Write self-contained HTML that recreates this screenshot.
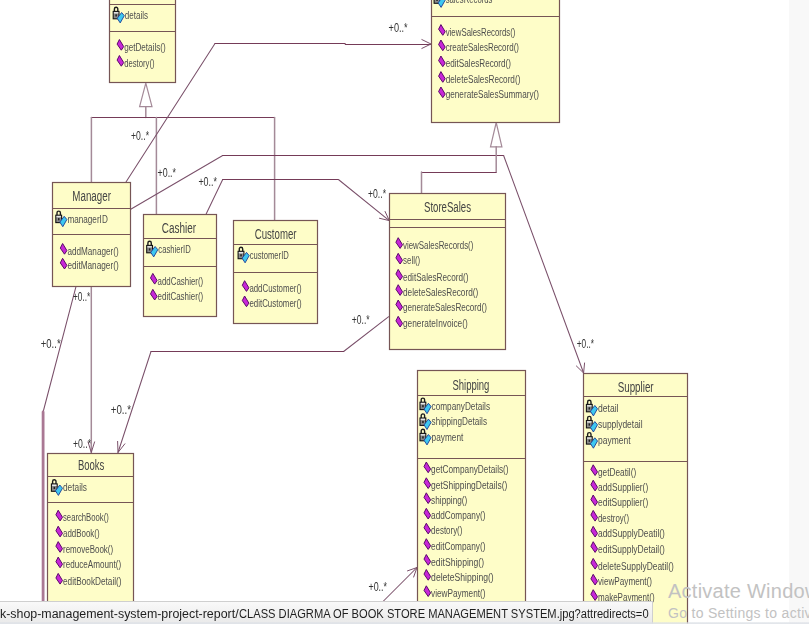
<!DOCTYPE html>
<html><head><meta charset="utf-8"><style>
html,body{margin:0;padding:0;width:809px;height:624px;overflow:hidden;background:#fff;}
body{position:relative;font-family:"Liberation Sans",sans-serif;}
svg{position:absolute;left:0;top:0;}
#strip{position:absolute;left:789px;top:0;width:20px;height:624px;background:#f8f8f8;}
#status{position:absolute;left:0;top:601px;width:653px;height:23px;background:linear-gradient(#f9f9f9,#e9e9e9);border-top:1px solid #cfcfcf;border-right:1px solid #cfcfcf;box-sizing:border-box;}
#status span{position:absolute;left:0;top:5px;font-size:12px;line-height:14px;color:#1e1e1e;white-space:nowrap;transform-origin:0 0;transform:scaleX(1.034);}
#status #st2{left:238.6px;transform:scaleX(0.928);}
#bot{position:absolute;left:0;top:622px;width:809px;height:2px;background:linear-gradient(rgba(220,224,230,0.5),#dfe3e8);}
#act1{position:absolute;left:668px;top:579.8px;font-size:20px;line-height:23px;letter-spacing:0.25px;color:#c2c2c2;white-space:nowrap;}
#act2{position:absolute;left:668px;top:605.2px;font-size:14px;line-height:16px;letter-spacing:0.3px;color:#c2c2c2;white-space:nowrap;}
</style></head><body>
<div id="strip"></div>
<svg width="809" height="624" viewBox="0 0 809 624" font-family="Liberation Sans, sans-serif">
<defs><filter id="bl" x="-2%" y="-2%" width="104%" height="104%"><feGaussianBlur stdDeviation="0.5 0.12"/></filter></defs>
<g filter="url(#bl)">
<polygon points="145.8,83.2 139.6,106.7 152,106.7" fill="#fff" stroke="#a48a98" stroke-width="1.2"/>
<line x1="145.8" y1="106.7" x2="145.8" y2="117.6" stroke="#a48a98" stroke-width="1.5" stroke-linecap="round"/>
<line x1="91.4" y1="117.5" x2="274.2" y2="117.5" stroke="#743a58" stroke-width="1.05" stroke-linecap="round"/>
<line x1="91.4" y1="117.6" x2="91.4" y2="182.8" stroke="#a48a98" stroke-width="1.5" stroke-linecap="round"/>
<line x1="156.4" y1="117.6" x2="156.4" y2="214.4" stroke="#a48a98" stroke-width="1.5" stroke-linecap="round"/>
<line x1="274.6" y1="117.6" x2="274.6" y2="220.5" stroke="#a48a98" stroke-width="1.5" stroke-linecap="round"/>
<line x1="125.5" y1="182.8" x2="215.0" y2="43.5" stroke="#7a506a" stroke-width="1.05" stroke-linecap="round"/>
<line x1="215.0" y1="43.5" x2="345.2" y2="43.5" stroke="#743a58" stroke-width="1.05" stroke-linecap="round"/>
<line x1="345.2" y1="44.5" x2="431.0" y2="44.5" stroke="#743a58" stroke-width="1.05" stroke-linecap="round"/>
<polyline points="421.5,39.4 431.0,44.0 421.5,48.6" fill="none" stroke="#7a506a" stroke-width="1.0"/>
<line x1="130.3" y1="209.5" x2="222.7" y2="155.5" stroke="#7a506a" stroke-width="1.05" stroke-linecap="round"/>
<line x1="222.7" y1="155.5" x2="503.6" y2="155.5" stroke="#743a58" stroke-width="1.05" stroke-linecap="round"/>
<line x1="503.6" y1="155.5" x2="583.6" y2="373.0" stroke="#7a506a" stroke-width="1.05" stroke-linecap="round"/>
<polyline points="584.6,362.6 583.6,373.0 576.1,365.7" fill="none" stroke="#7a506a" stroke-width="1.0"/>
<line x1="205.9" y1="214.4" x2="222.7" y2="179.5" stroke="#7a506a" stroke-width="1.05" stroke-linecap="round"/>
<line x1="222.7" y1="179.5" x2="338.4" y2="179.5" stroke="#743a58" stroke-width="1.05" stroke-linecap="round"/>
<line x1="338.4" y1="179.5" x2="389.3" y2="220.6" stroke="#7a506a" stroke-width="1.05" stroke-linecap="round"/>
<polyline points="384.9,211.1 389.3,220.6 379.1,218.2" fill="none" stroke="#7a506a" stroke-width="1.0"/>
<polygon points="496.2,122.5 490.5,146.8 501.9,146.8" fill="#fff" stroke="#a48a98" stroke-width="1.2"/>
<line x1="496.2" y1="146.8" x2="496.2" y2="172.0" stroke="#a48a98" stroke-width="1.5" stroke-linecap="round"/>
<line x1="421.5" y1="172.5" x2="496.2" y2="172.5" stroke="#743a58" stroke-width="1.05" stroke-linecap="round"/>
<line x1="421.5" y1="172.0" x2="421.5" y2="193.9" stroke="#a48a98" stroke-width="1.5" stroke-linecap="round"/>
<line x1="388.7" y1="316.7" x2="343.6" y2="351.5" stroke="#7a506a" stroke-width="1.05" stroke-linecap="round"/>
<line x1="343.6" y1="351.5" x2="151.0" y2="351.5" stroke="#743a58" stroke-width="1.05" stroke-linecap="round"/>
<line x1="151.0" y1="351.5" x2="118.0" y2="452.5" stroke="#7a506a" stroke-width="1.05" stroke-linecap="round"/>
<polyline points="125.1,443.5 118.0,452.5 117.6,441.0" fill="none" stroke="#7a506a" stroke-width="1.0"/>
<line x1="91.3" y1="286.2" x2="91.3" y2="452.5" stroke="#a48a98" stroke-width="1.5" stroke-linecap="round"/>
<polyline points="94.7,441.5 91.3,452.5 87.9,441.5" fill="none" stroke="#7a506a" stroke-width="1.0"/>
<line x1="76.1" y1="286.2" x2="43.1" y2="412.0" stroke="#7a506a" stroke-width="1.05" stroke-linecap="round"/>
<line x1="43.1" y1="412.0" x2="43.1" y2="624.0" stroke="#aa7894" stroke-width="2.8" stroke-linecap="round"/>
<line x1="383.5" y1="601.0" x2="417.0" y2="567.5" stroke="#7a506a" stroke-width="1.05" stroke-linecap="round"/>
<polyline points="407.1,571.0 417.0,567.5 413.5,577.4" fill="none" stroke="#7a506a" stroke-width="1.0"/>
<rect x="109.5" y="-29.5" width="66.0" height="112.0" fill="#fefdc8" stroke="#765454" stroke-width="1.2"/>
<line x1="109.5" y1="4.5" x2="175.5" y2="4.5" stroke="#765454" stroke-width="1.2"/>
<line x1="109.5" y1="31.5" x2="175.5" y2="31.5" stroke="#765454" stroke-width="1.2"/>
<path d="M114.4,11.4 v-2.4 a1.7,1.7 0 0 1 3.4,0 v2.4" fill="none" stroke="#1e1e1e" stroke-width="1.4"/>
<rect x="113.2" y="11.4" width="5.8" height="7.4" fill="#8c8c8c" stroke="#141414" stroke-width="1.1"/>
<rect x="113.9" y="12.1" width="4.4" height="1.4" fill="#e8e8e8"/>
<rect x="115.4" y="14.3" width="1.5" height="2.2" fill="#202020"/>
<polygon points="121.6,12.5 124.3,15.7 120.2,22.9 117.2,18.3" fill="#3cc8f0" stroke="#1e3c96" stroke-width="0.9"/>
<text x="124.8" y="18.8" font-size="10" fill="#4e4e4e" textLength="23.2" lengthAdjust="spacingAndGlyphs">details</text>
<polygon points="119.4,39.5 123.7,46.6 121.3,50.2 117.1,44.1" fill="#c828d8" stroke="#5a0a6a" stroke-width="1.0"/>
<text x="124.2" y="50.6" font-size="10" fill="#4e4e4e" textLength="41.5" lengthAdjust="spacingAndGlyphs">getDetails()</text>
<polygon points="119.4,55.5 123.7,62.6 121.3,66.2 117.1,60.1" fill="#c828d8" stroke="#5a0a6a" stroke-width="1.0"/>
<text x="124.2" y="66.6" font-size="10" fill="#4e4e4e" textLength="30.3" lengthAdjust="spacingAndGlyphs">destory()</text>
<rect x="431.5" y="-29.5" width="128.0" height="152.0" fill="#fefdc8" stroke="#765454" stroke-width="1.2"/>
<line x1="431.5" y1="16.5" x2="559.5" y2="16.5" stroke="#765454" stroke-width="1.2"/>
<path d="M435.3,-4.1 v-2.4 a1.7,1.7 0 0 1 3.4,0 v2.4" fill="none" stroke="#1e1e1e" stroke-width="1.4"/>
<rect x="434.1" y="-4.1" width="5.8" height="7.4" fill="#8c8c8c" stroke="#141414" stroke-width="1.1"/>
<rect x="434.8" y="-3.4" width="4.4" height="1.4" fill="#e8e8e8"/>
<rect x="436.3" y="-1.2" width="1.5" height="2.2" fill="#202020"/>
<polygon points="442.5,-3.0 445.2,0.2 441.1,7.4 438.1,2.8" fill="#3cc8f0" stroke="#1e3c96" stroke-width="0.9"/>
<text x="445.7" y="3.3" font-size="10" fill="#4e4e4e" textLength="46.8" lengthAdjust="spacingAndGlyphs">salesRecords</text>
<polygon points="440.9,24.6 445.2,31.7 442.8,35.3 438.6,29.2" fill="#c828d8" stroke="#5a0a6a" stroke-width="1.0"/>
<text x="445.7" y="35.7" font-size="10" fill="#4e4e4e" textLength="69.8" lengthAdjust="spacingAndGlyphs">viewSalesRecords()</text>
<polygon points="440.9,40.0 445.2,47.1 442.8,50.7 438.6,44.6" fill="#c828d8" stroke="#5a0a6a" stroke-width="1.0"/>
<text x="445.7" y="51.1" font-size="10" fill="#4e4e4e" textLength="73.3" lengthAdjust="spacingAndGlyphs">createSalesRecord()</text>
<polygon points="440.9,56.0 445.2,63.1 442.8,66.7 438.6,60.6" fill="#c828d8" stroke="#5a0a6a" stroke-width="1.0"/>
<text x="445.7" y="67.1" font-size="10" fill="#4e4e4e" textLength="65.3" lengthAdjust="spacingAndGlyphs">editSalesRecord()</text>
<polygon points="440.9,71.6 445.2,78.7 442.8,82.3 438.6,76.2" fill="#c828d8" stroke="#5a0a6a" stroke-width="1.0"/>
<text x="445.7" y="82.7" font-size="10" fill="#4e4e4e" textLength="74.7" lengthAdjust="spacingAndGlyphs">deleteSalesRecord()</text>
<polygon points="440.9,87.0 445.2,94.1 442.8,97.7 438.6,91.6" fill="#c828d8" stroke="#5a0a6a" stroke-width="1.0"/>
<text x="445.7" y="98.1" font-size="10" fill="#4e4e4e" textLength="93.3" lengthAdjust="spacingAndGlyphs">generateSalesSummary()</text>
<rect x="52.5" y="182.5" width="78.0" height="104.0" fill="#fefdc8" stroke="#765454" stroke-width="1.2"/>
<line x1="52.5" y1="208.5" x2="130.5" y2="208.5" stroke="#765454" stroke-width="1.2"/>
<line x1="52.5" y1="234.5" x2="130.5" y2="234.5" stroke="#765454" stroke-width="1.2"/>
<text x="72.3" y="201.2" font-size="14" fill="#444" textLength="38.6" lengthAdjust="spacingAndGlyphs">Manager</text>
<path d="M57.0,215.2 v-2.4 a1.7,1.7 0 0 1 3.4,0 v2.4" fill="none" stroke="#1e1e1e" stroke-width="1.4"/>
<rect x="55.8" y="215.2" width="5.8" height="7.4" fill="#8c8c8c" stroke="#141414" stroke-width="1.1"/>
<rect x="56.5" y="215.9" width="4.4" height="1.4" fill="#e8e8e8"/>
<rect x="58.0" y="218.1" width="1.5" height="2.2" fill="#202020"/>
<polygon points="64.2,216.3 66.9,219.5 62.8,226.7 59.8,222.1" fill="#3cc8f0" stroke="#1e3c96" stroke-width="0.9"/>
<text x="67.4" y="222.6" font-size="10" fill="#4e4e4e" textLength="40.4" lengthAdjust="spacingAndGlyphs">managerID</text>
<polygon points="62.6,243.5 66.9,250.6 64.5,254.2 60.3,248.1" fill="#c828d8" stroke="#5a0a6a" stroke-width="1.0"/>
<text x="67.4" y="254.6" font-size="10" fill="#4e4e4e" textLength="51.3" lengthAdjust="spacingAndGlyphs">addManager()</text>
<polygon points="62.6,258.3 66.9,265.4 64.5,269.0 60.3,262.9" fill="#c828d8" stroke="#5a0a6a" stroke-width="1.0"/>
<text x="67.4" y="269.4" font-size="10" fill="#4e4e4e" textLength="51.3" lengthAdjust="spacingAndGlyphs">editManager()</text>
<rect x="143.5" y="214.5" width="73.0" height="102.0" fill="#fefdc8" stroke="#765454" stroke-width="1.2"/>
<line x1="143.5" y1="238.5" x2="216.5" y2="238.5" stroke="#765454" stroke-width="1.2"/>
<line x1="143.5" y1="266.5" x2="216.5" y2="266.5" stroke="#765454" stroke-width="1.2"/>
<text x="161.8" y="232.8" font-size="14" fill="#444" textLength="34.3" lengthAdjust="spacingAndGlyphs">Cashier</text>
<path d="M147.9,245.4 v-2.4 a1.7,1.7 0 0 1 3.4,0 v2.4" fill="none" stroke="#1e1e1e" stroke-width="1.4"/>
<rect x="146.7" y="245.4" width="5.8" height="7.4" fill="#8c8c8c" stroke="#141414" stroke-width="1.1"/>
<rect x="147.4" y="246.1" width="4.4" height="1.4" fill="#e8e8e8"/>
<rect x="148.9" y="248.3" width="1.5" height="2.2" fill="#202020"/>
<polygon points="155.1,246.5 157.8,249.7 153.7,256.9 150.7,252.3" fill="#3cc8f0" stroke="#1e3c96" stroke-width="0.9"/>
<text x="158.3" y="252.8" font-size="10" fill="#4e4e4e" textLength="32.5" lengthAdjust="spacingAndGlyphs">cashierID</text>
<polygon points="152.8,273.4 157.1,280.5 154.7,284.1 150.5,278.0" fill="#c828d8" stroke="#5a0a6a" stroke-width="1.0"/>
<text x="157.6" y="284.5" font-size="10" fill="#4e4e4e" textLength="45.6" lengthAdjust="spacingAndGlyphs">addCashier()</text>
<polygon points="152.8,289.3 157.1,296.4 154.7,300.0 150.5,293.9" fill="#c828d8" stroke="#5a0a6a" stroke-width="1.0"/>
<text x="157.6" y="300.4" font-size="10" fill="#4e4e4e" textLength="45.6" lengthAdjust="spacingAndGlyphs">editCashier()</text>
<rect x="233.5" y="220.5" width="84.0" height="103.0" fill="#fefdc8" stroke="#765454" stroke-width="1.2"/>
<line x1="233.5" y1="244.5" x2="317.5" y2="244.5" stroke="#765454" stroke-width="1.2"/>
<line x1="233.5" y1="272.5" x2="317.5" y2="272.5" stroke="#765454" stroke-width="1.2"/>
<text x="254.7" y="238.6" font-size="14" fill="#444" textLength="41.8" lengthAdjust="spacingAndGlyphs">Customer</text>
<path d="M239.3,251.3 v-2.4 a1.7,1.7 0 0 1 3.4,0 v2.4" fill="none" stroke="#1e1e1e" stroke-width="1.4"/>
<rect x="238.1" y="251.3" width="5.8" height="7.4" fill="#8c8c8c" stroke="#141414" stroke-width="1.1"/>
<rect x="238.8" y="252.0" width="4.4" height="1.4" fill="#e8e8e8"/>
<rect x="240.3" y="254.2" width="1.5" height="2.2" fill="#202020"/>
<polygon points="246.5,252.4 249.2,255.6 245.1,262.8 242.1,258.2" fill="#3cc8f0" stroke="#1e3c96" stroke-width="0.9"/>
<text x="249.7" y="258.7" font-size="10" fill="#4e4e4e" textLength="39.1" lengthAdjust="spacingAndGlyphs">customerID</text>
<polygon points="244.6,280.7 248.9,287.8 246.5,291.4 242.3,285.3" fill="#c828d8" stroke="#5a0a6a" stroke-width="1.0"/>
<text x="249.4" y="291.8" font-size="10" fill="#4e4e4e" textLength="52.3" lengthAdjust="spacingAndGlyphs">addCustomer()</text>
<polygon points="244.6,296.0 248.9,303.1 246.5,306.7 242.3,300.6" fill="#c828d8" stroke="#5a0a6a" stroke-width="1.0"/>
<text x="249.4" y="307.1" font-size="10" fill="#4e4e4e" textLength="52.3" lengthAdjust="spacingAndGlyphs">editCustomer()</text>
<rect x="389.5" y="193.5" width="116.0" height="156.0" fill="#fefdc8" stroke="#765454" stroke-width="1.2"/>
<line x1="389.5" y1="219.5" x2="505.5" y2="219.5" stroke="#765454" stroke-width="1.2"/>
<line x1="389.5" y1="227.5" x2="505.5" y2="227.5" stroke="#765454" stroke-width="1.2"/>
<text x="424.0" y="212.2" font-size="14" fill="#444" textLength="47.0" lengthAdjust="spacingAndGlyphs">StoreSales</text>
<polygon points="398.2,237.7 402.5,244.8 400.1,248.4 395.9,242.3" fill="#c828d8" stroke="#5a0a6a" stroke-width="1.0"/>
<text x="403.0" y="248.8" font-size="10" fill="#4e4e4e" textLength="70.4" lengthAdjust="spacingAndGlyphs">viewSalesRecords()</text>
<polygon points="398.2,253.3 402.5,260.4 400.1,264.0 395.9,257.9" fill="#c828d8" stroke="#5a0a6a" stroke-width="1.0"/>
<text x="403.0" y="264.4" font-size="10" fill="#4e4e4e" textLength="17.2" lengthAdjust="spacingAndGlyphs">sell()</text>
<polygon points="398.2,269.4 402.5,276.5 400.1,280.1 395.9,274.0" fill="#c828d8" stroke="#5a0a6a" stroke-width="1.0"/>
<text x="403.0" y="280.5" font-size="10" fill="#4e4e4e" textLength="65.4" lengthAdjust="spacingAndGlyphs">editSalesRecord()</text>
<polygon points="398.2,284.7 402.5,291.8 400.1,295.4 395.9,289.3" fill="#c828d8" stroke="#5a0a6a" stroke-width="1.0"/>
<text x="403.0" y="295.8" font-size="10" fill="#4e4e4e" textLength="75.3" lengthAdjust="spacingAndGlyphs">deleteSalesRecord()</text>
<polygon points="398.2,300.0 402.5,307.1 400.1,310.7 395.9,304.6" fill="#c828d8" stroke="#5a0a6a" stroke-width="1.0"/>
<text x="403.0" y="311.1" font-size="10" fill="#4e4e4e" textLength="84.0" lengthAdjust="spacingAndGlyphs">generateSalesRecord()</text>
<polygon points="398.2,316.3 402.5,323.4 400.1,327.0 395.9,320.9" fill="#c828d8" stroke="#5a0a6a" stroke-width="1.0"/>
<text x="403.0" y="327.4" font-size="10" fill="#4e4e4e" textLength="64.7" lengthAdjust="spacingAndGlyphs">generateInvoice()</text>
<rect x="47.5" y="453.5" width="86.0" height="187.0" fill="#fefdc8" stroke="#765454" stroke-width="1.2"/>
<line x1="47.5" y1="476.5" x2="133.5" y2="476.5" stroke="#765454" stroke-width="1.2"/>
<line x1="47.5" y1="502.5" x2="133.5" y2="502.5" stroke="#765454" stroke-width="1.2"/>
<text x="77.9" y="470.4" font-size="14" fill="#444" textLength="26.4" lengthAdjust="spacingAndGlyphs">Books</text>
<path d="M52.6,483.9 v-2.4 a1.7,1.7 0 0 1 3.4,0 v2.4" fill="none" stroke="#1e1e1e" stroke-width="1.4"/>
<rect x="51.4" y="483.9" width="5.8" height="7.4" fill="#8c8c8c" stroke="#141414" stroke-width="1.1"/>
<rect x="52.1" y="484.6" width="4.4" height="1.4" fill="#e8e8e8"/>
<rect x="53.6" y="486.8" width="1.5" height="2.2" fill="#202020"/>
<polygon points="59.8,485.0 62.5,488.2 58.4,495.4 55.4,490.8" fill="#3cc8f0" stroke="#1e3c96" stroke-width="0.9"/>
<text x="63.0" y="491.3" font-size="10" fill="#4e4e4e" textLength="24.0" lengthAdjust="spacingAndGlyphs">details</text>
<polygon points="58.2,510.2 62.5,517.3 60.1,520.9 55.9,514.8" fill="#c828d8" stroke="#5a0a6a" stroke-width="1.0"/>
<text x="63.0" y="521.3" font-size="10" fill="#4e4e4e" textLength="45.8" lengthAdjust="spacingAndGlyphs">searchBook()</text>
<polygon points="58.2,526.2 62.5,533.3 60.1,536.9 55.9,530.8" fill="#c828d8" stroke="#5a0a6a" stroke-width="1.0"/>
<text x="63.0" y="537.3" font-size="10" fill="#4e4e4e" textLength="36.6" lengthAdjust="spacingAndGlyphs">addBook()</text>
<polygon points="58.2,541.6 62.5,548.7 60.1,552.3 55.9,546.2" fill="#c828d8" stroke="#5a0a6a" stroke-width="1.0"/>
<text x="63.0" y="552.7" font-size="10" fill="#4e4e4e" textLength="50.2" lengthAdjust="spacingAndGlyphs">removeBook()</text>
<polygon points="58.2,557.1 62.5,564.2 60.1,567.8 55.9,561.7" fill="#c828d8" stroke="#5a0a6a" stroke-width="1.0"/>
<text x="63.0" y="568.2" font-size="10" fill="#4e4e4e" textLength="58.1" lengthAdjust="spacingAndGlyphs">reduceAmount()</text>
<polygon points="58.2,573.4 62.5,580.5 60.1,584.1 55.9,578.0" fill="#c828d8" stroke="#5a0a6a" stroke-width="1.0"/>
<text x="63.0" y="584.5" font-size="10" fill="#4e4e4e" textLength="58.6" lengthAdjust="spacingAndGlyphs">editBookDetail()</text>
<rect x="417.5" y="370.5" width="108.0" height="270.0" fill="#fefdc8" stroke="#765454" stroke-width="1.2"/>
<line x1="417.5" y1="395.5" x2="525.5" y2="395.5" stroke="#765454" stroke-width="1.2"/>
<line x1="417.5" y1="458.5" x2="525.5" y2="458.5" stroke="#765454" stroke-width="1.2"/>
<text x="452.4" y="389.9" font-size="14" fill="#444" textLength="37.0" lengthAdjust="spacingAndGlyphs">Shipping</text>
<path d="M421.2,402.2 v-2.4 a1.7,1.7 0 0 1 3.4,0 v2.4" fill="none" stroke="#1e1e1e" stroke-width="1.4"/>
<rect x="420.0" y="402.2" width="5.8" height="7.4" fill="#8c8c8c" stroke="#141414" stroke-width="1.1"/>
<rect x="420.7" y="402.9" width="4.4" height="1.4" fill="#e8e8e8"/>
<rect x="422.2" y="405.1" width="1.5" height="2.2" fill="#202020"/>
<polygon points="428.4,403.3 431.1,406.5 427.0,413.7 424.0,409.1" fill="#3cc8f0" stroke="#1e3c96" stroke-width="0.9"/>
<text x="431.6" y="409.6" font-size="10" fill="#4e4e4e" textLength="58.4" lengthAdjust="spacingAndGlyphs">companyDetails</text>
<path d="M421.2,418.0 v-2.4 a1.7,1.7 0 0 1 3.4,0 v2.4" fill="none" stroke="#1e1e1e" stroke-width="1.4"/>
<rect x="420.0" y="418.0" width="5.8" height="7.4" fill="#8c8c8c" stroke="#141414" stroke-width="1.1"/>
<rect x="420.7" y="418.7" width="4.4" height="1.4" fill="#e8e8e8"/>
<rect x="422.2" y="420.9" width="1.5" height="2.2" fill="#202020"/>
<polygon points="428.4,419.1 431.1,422.3 427.0,429.5 424.0,424.9" fill="#3cc8f0" stroke="#1e3c96" stroke-width="0.9"/>
<text x="431.6" y="425.4" font-size="10" fill="#4e4e4e" textLength="55.4" lengthAdjust="spacingAndGlyphs">shippingDetails</text>
<path d="M421.2,433.4 v-2.4 a1.7,1.7 0 0 1 3.4,0 v2.4" fill="none" stroke="#1e1e1e" stroke-width="1.4"/>
<rect x="420.0" y="433.4" width="5.8" height="7.4" fill="#8c8c8c" stroke="#141414" stroke-width="1.1"/>
<rect x="420.7" y="434.1" width="4.4" height="1.4" fill="#e8e8e8"/>
<rect x="422.2" y="436.3" width="1.5" height="2.2" fill="#202020"/>
<polygon points="428.4,434.5 431.1,437.7 427.0,444.9 424.0,440.3" fill="#3cc8f0" stroke="#1e3c96" stroke-width="0.9"/>
<text x="431.6" y="440.8" font-size="10" fill="#4e4e4e" textLength="31.7" lengthAdjust="spacingAndGlyphs">payment</text>
<polygon points="426.3,462.0 430.6,469.1 428.2,472.7 424.0,466.6" fill="#c828d8" stroke="#5a0a6a" stroke-width="1.0"/>
<text x="431.1" y="473.1" font-size="10" fill="#4e4e4e" textLength="77.5" lengthAdjust="spacingAndGlyphs">getCompanyDetails()</text>
<polygon points="426.3,477.8 430.6,484.9 428.2,488.5 424.0,482.4" fill="#c828d8" stroke="#5a0a6a" stroke-width="1.0"/>
<text x="431.1" y="488.9" font-size="10" fill="#4e4e4e" textLength="76.2" lengthAdjust="spacingAndGlyphs">getShippingDetails()</text>
<polygon points="426.3,492.8 430.6,499.9 428.2,503.5 424.0,497.4" fill="#c828d8" stroke="#5a0a6a" stroke-width="1.0"/>
<text x="431.1" y="503.9" font-size="10" fill="#4e4e4e" textLength="36.2" lengthAdjust="spacingAndGlyphs">shipping()</text>
<polygon points="426.3,508.3 430.6,515.4 428.2,519.0 424.0,512.9" fill="#c828d8" stroke="#5a0a6a" stroke-width="1.0"/>
<text x="431.1" y="519.4" font-size="10" fill="#4e4e4e" textLength="54.4" lengthAdjust="spacingAndGlyphs">addCompany()</text>
<polygon points="426.3,523.2 430.6,530.3 428.2,533.9 424.0,527.8" fill="#c828d8" stroke="#5a0a6a" stroke-width="1.0"/>
<text x="431.1" y="534.3" font-size="10" fill="#4e4e4e" textLength="31.3" lengthAdjust="spacingAndGlyphs">destory()</text>
<polygon points="426.3,538.7 430.6,545.8 428.2,549.4 424.0,543.3" fill="#c828d8" stroke="#5a0a6a" stroke-width="1.0"/>
<text x="431.1" y="549.8" font-size="10" fill="#4e4e4e" textLength="54.4" lengthAdjust="spacingAndGlyphs">editCompany()</text>
<polygon points="426.3,554.5 430.6,561.6 428.2,565.2 424.0,559.1" fill="#c828d8" stroke="#5a0a6a" stroke-width="1.0"/>
<text x="431.1" y="565.6" font-size="10" fill="#4e4e4e" textLength="53.0" lengthAdjust="spacingAndGlyphs">editShipping()</text>
<polygon points="426.3,569.5 430.6,576.6 428.2,580.2 424.0,574.1" fill="#c828d8" stroke="#5a0a6a" stroke-width="1.0"/>
<text x="431.1" y="580.6" font-size="10" fill="#4e4e4e" textLength="62.6" lengthAdjust="spacingAndGlyphs">deleteShipping()</text>
<polygon points="426.3,585.8 430.6,592.9 428.2,596.5 424.0,590.4" fill="#c828d8" stroke="#5a0a6a" stroke-width="1.0"/>
<text x="431.1" y="596.9" font-size="10" fill="#4e4e4e" textLength="54.4" lengthAdjust="spacingAndGlyphs">viewPayment()</text>
<rect x="583.5" y="373.5" width="104.0" height="267.0" fill="#fefdc8" stroke="#765454" stroke-width="1.2"/>
<line x1="583.5" y1="396.5" x2="687.5" y2="396.5" stroke="#765454" stroke-width="1.2"/>
<line x1="583.5" y1="461.5" x2="687.5" y2="461.5" stroke="#765454" stroke-width="1.2"/>
<text x="617.7" y="392.4" font-size="14" fill="#444" textLength="35.9" lengthAdjust="spacingAndGlyphs">Supplier</text>
<path d="M587.6,404.4 v-2.4 a1.7,1.7 0 0 1 3.4,0 v2.4" fill="none" stroke="#1e1e1e" stroke-width="1.4"/>
<rect x="586.4" y="404.4" width="5.8" height="7.4" fill="#8c8c8c" stroke="#141414" stroke-width="1.1"/>
<rect x="587.1" y="405.1" width="4.4" height="1.4" fill="#e8e8e8"/>
<rect x="588.6" y="407.3" width="1.5" height="2.2" fill="#202020"/>
<polygon points="594.8,405.5 597.5,408.7 593.4,415.9 590.4,411.3" fill="#3cc8f0" stroke="#1e3c96" stroke-width="0.9"/>
<text x="598.0" y="411.8" font-size="10" fill="#4e4e4e" textLength="20.5" lengthAdjust="spacingAndGlyphs">detail</text>
<path d="M587.6,420.5 v-2.4 a1.7,1.7 0 0 1 3.4,0 v2.4" fill="none" stroke="#1e1e1e" stroke-width="1.4"/>
<rect x="586.4" y="420.5" width="5.8" height="7.4" fill="#8c8c8c" stroke="#141414" stroke-width="1.1"/>
<rect x="587.1" y="421.2" width="4.4" height="1.4" fill="#e8e8e8"/>
<rect x="588.6" y="423.4" width="1.5" height="2.2" fill="#202020"/>
<polygon points="594.8,421.6 597.5,424.8 593.4,432.0 590.4,427.4" fill="#3cc8f0" stroke="#1e3c96" stroke-width="0.9"/>
<text x="598.0" y="427.9" font-size="10" fill="#4e4e4e" textLength="44.6" lengthAdjust="spacingAndGlyphs">supplydetail</text>
<path d="M587.6,436.7 v-2.4 a1.7,1.7 0 0 1 3.4,0 v2.4" fill="none" stroke="#1e1e1e" stroke-width="1.4"/>
<rect x="586.4" y="436.7" width="5.8" height="7.4" fill="#8c8c8c" stroke="#141414" stroke-width="1.1"/>
<rect x="587.1" y="437.4" width="4.4" height="1.4" fill="#e8e8e8"/>
<rect x="588.6" y="439.6" width="1.5" height="2.2" fill="#202020"/>
<polygon points="594.8,437.8 597.5,441.0 593.4,448.2 590.4,443.6" fill="#3cc8f0" stroke="#1e3c96" stroke-width="0.9"/>
<text x="598.0" y="444.1" font-size="10" fill="#4e4e4e" textLength="32.5" lengthAdjust="spacingAndGlyphs">payment</text>
<polygon points="593.2,464.8 597.5,471.9 595.1,475.5 590.9,469.4" fill="#c828d8" stroke="#5a0a6a" stroke-width="1.0"/>
<text x="598.0" y="475.9" font-size="10" fill="#4e4e4e" textLength="38.2" lengthAdjust="spacingAndGlyphs">getDeatil()</text>
<polygon points="593.2,480.2 597.5,487.3 595.1,490.9 590.9,484.8" fill="#c828d8" stroke="#5a0a6a" stroke-width="1.0"/>
<text x="598.0" y="491.3" font-size="10" fill="#4e4e4e" textLength="50.2" lengthAdjust="spacingAndGlyphs">addSupplier()</text>
<polygon points="593.2,495.0 597.5,502.1 595.1,505.7 590.9,499.6" fill="#c828d8" stroke="#5a0a6a" stroke-width="1.0"/>
<text x="598.0" y="506.1" font-size="10" fill="#4e4e4e" textLength="50.2" lengthAdjust="spacingAndGlyphs">editSupplier()</text>
<polygon points="593.2,510.4 597.5,517.5 595.1,521.1 590.9,515.0" fill="#c828d8" stroke="#5a0a6a" stroke-width="1.0"/>
<text x="598.0" y="521.5" font-size="10" fill="#4e4e4e" textLength="31.0" lengthAdjust="spacingAndGlyphs">destroy()</text>
<polygon points="593.2,526.3 597.5,533.4 595.1,537.0 590.9,530.9" fill="#c828d8" stroke="#5a0a6a" stroke-width="1.0"/>
<text x="598.0" y="537.4" font-size="10" fill="#4e4e4e" textLength="66.9" lengthAdjust="spacingAndGlyphs">addSupplyDeatil()</text>
<polygon points="593.2,541.7 597.5,548.8 595.1,552.4 590.9,546.3" fill="#c828d8" stroke="#5a0a6a" stroke-width="1.0"/>
<text x="598.0" y="552.8" font-size="10" fill="#4e4e4e" textLength="66.9" lengthAdjust="spacingAndGlyphs">editSupplyDetail()</text>
<polygon points="593.2,558.4 597.5,565.5 595.1,569.1 590.9,563.0" fill="#c828d8" stroke="#5a0a6a" stroke-width="1.0"/>
<text x="598.0" y="569.5" font-size="10" fill="#4e4e4e" textLength="75.8" lengthAdjust="spacingAndGlyphs">deleteSupplyDeatil()</text>
<polygon points="593.2,574.3 597.5,581.4 595.1,585.0 590.9,578.9" fill="#c828d8" stroke="#5a0a6a" stroke-width="1.0"/>
<text x="598.0" y="585.4" font-size="10" fill="#4e4e4e" textLength="54.0" lengthAdjust="spacingAndGlyphs">viewPayment()</text>
<polygon points="593.2,589.7 597.5,596.8 595.1,600.4 590.9,594.3" fill="#c828d8" stroke="#5a0a6a" stroke-width="1.0"/>
<text x="598.0" y="600.8" font-size="10" fill="#4e4e4e" textLength="56.6" lengthAdjust="spacingAndGlyphs">makePayment()</text>
<text x="388.6" y="31.5" font-size="13.5" fill="#333" textLength="19.0" lengthAdjust="spacingAndGlyphs">+0..*</text>
<text x="131.0" y="140.2" font-size="13.5" fill="#333" textLength="18.0" lengthAdjust="spacingAndGlyphs">+0..*</text>
<text x="157.6" y="176.9" font-size="13.5" fill="#333" textLength="18.4" lengthAdjust="spacingAndGlyphs">+0..*</text>
<text x="198.4" y="185.7" font-size="13.5" fill="#333" textLength="18.6" lengthAdjust="spacingAndGlyphs">+0..*</text>
<text x="368.0" y="198.2" font-size="13.5" fill="#333" textLength="18.0" lengthAdjust="spacingAndGlyphs">+0..*</text>
<text x="72.9" y="301.0" font-size="13.5" fill="#333" textLength="17.3" lengthAdjust="spacingAndGlyphs">+0..*</text>
<text x="40.8" y="348.0" font-size="13.5" fill="#333" textLength="19.8" lengthAdjust="spacingAndGlyphs">+0..*</text>
<text x="351.8" y="324.2" font-size="13.5" fill="#333" textLength="17.8" lengthAdjust="spacingAndGlyphs">+0..*</text>
<text x="110.8" y="414.0" font-size="13.5" fill="#333" textLength="20.2" lengthAdjust="spacingAndGlyphs">+0..*</text>
<text x="73.0" y="448.2" font-size="13.5" fill="#333" textLength="18.0" lengthAdjust="spacingAndGlyphs">+0..*</text>
<text x="576.7" y="348.2" font-size="13.5" fill="#333" textLength="17.3" lengthAdjust="spacingAndGlyphs">+0..*</text>
<text x="368.5" y="591.2" font-size="13.5" fill="#333" textLength="18.5" lengthAdjust="spacingAndGlyphs">+0..*</text>
</g>
</svg>
<div id="status"><span id="st">k-shop-management-system-project-report/</span><span id="st2">CLASS DIAGRMA OF BOOK STORE MANAGEMENT SYSTEM.jpg?attredirects=0</span></div>
<div id="act1">Activate Windows</div>
<div id="act2">Go to Settings to activate Windows.</div>
<div id="bot"></div>
</body></html>
